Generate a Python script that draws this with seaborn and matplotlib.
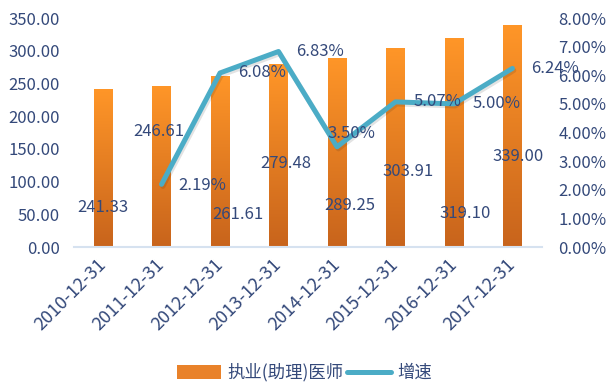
import matplotlib
matplotlib.use("Agg")
import matplotlib.pyplot as plt
import matplotlib.patheffects as pe
from matplotlib.patches import Patch
from matplotlib.lines import Line2D
from matplotlib.colors import LinearSegmentedColormap
import seaborn as sns
import pandas as pd
import numpy as np

# 数据
dates = ["2010-12-31", "2011-12-31", "2012-12-31", "2013-12-31",
         "2014-12-31", "2015-12-31", "2016-12-31", "2017-12-31"]
doctors = [241.33, 246.61, 261.61, 279.48, 289.25, 303.91, 319.10, 339.00]
growth = [np.nan, 2.19, 6.08, 6.83, 3.50, 5.07, 5.00, 6.24]  # 百分比

# 数据标签位置 (Excel 里被拖乱了)
bar_lab_x = [0.0, 0.95, 2.3, 3.12, 4.22, 5.21, 6.2, 7.09]
bar_lab_y = [60, 176, 49, 127, 64, 116, 52, 138]
pct_lab_x = [np.nan, 1.7, 2.72, 3.71, 4.25, 5.72, 6.72, 7.73]
pct_lab_y = [np.nan, 2.16, 6.08, 6.83, 3.95, 5.07, 5.00, 6.24]

TXT = "#34497a"
LINE = "#4BACC6"

sns.set_theme(style="white")
plt.rcParams["font.family"] = ["Noto Sans CJK SC", "DejaVu Sans"]

df = pd.DataFrame({"date": dates, "doctors": doctors, "growth": growth})

fig = plt.figure(figsize=(6.1, 3.83), dpi=100)
ax = fig.add_axes([0.121, 0.355, 0.767, 0.598])

sns.barplot(data=df, x="date", y="doctors", color="#E9822A", width=0.32,
            saturation=1, ax=ax)

# 渐变填充
cmap = LinearSegmentedColormap.from_list("org", ["#C8641C", "#FF9628"])
grad = np.linspace(0, 1, 256).reshape(-1, 1)
for p in ax.patches:
    x0, y0 = p.get_x(), p.get_y()
    w, h = p.get_width(), p.get_height()
    im = ax.imshow(grad, extent=(x0, x0 + w, y0, y0 + h), origin="lower",
                   cmap=cmap, aspect="auto", zorder=p.get_zorder() + 0.1)
    im.set_clip_path(p)

ax.set_xlim(-0.5, 7.5)
ax.set_ylim(0, 350)
ax.set_yticks(np.arange(0, 351, 50))
ax.set_yticklabels([f"{v:.2f}" for v in np.arange(0, 351, 50)])
ax.set_xlabel("")
ax.set_ylabel("")
ax.set_xticks(range(len(dates)))
ax.set_xticklabels(dates, rotation=45, ha="right", va="center",
                   rotation_mode="anchor")
ax.tick_params(axis="y", length=0, pad=10, labelsize=12, labelcolor=TXT)
ax.tick_params(axis="x", length=0, pad=11, labelsize=13, labelcolor=TXT)
for s in ["top", "right", "left"]:
    ax.spines[s].set_visible(False)
ax.spines["bottom"].set_color("#D6E2F0")
ax.spines["bottom"].set_linewidth(1.5)

# 右轴: 增速
ax2 = ax.twinx()
sns.lineplot(x=np.arange(1, len(dates)), y=growth[1:], color=LINE,
             linewidth=3.6, ax=ax2,
             path_effects=[pe.SimpleLineShadow(offset=(1, -1.5), alpha=0.12),
                           pe.Normal()])
ax2.set_ylim(0, 8)
ax2.set_yticks(np.arange(0, 9))
ax2.set_yticklabels([f"{v:.2f}%" for v in np.arange(0, 9)])
ax2.tick_params(axis="y", length=0, pad=12, labelsize=12, labelcolor=TXT)
for s in ax2.spines.values():
    s.set_visible(False)
ax2.set_xlim(-0.5, 7.5)

# 数据标签
for i in range(len(dates)):
    ax2.text(bar_lab_x[i], bar_lab_y[i], f"{doctors[i]:.2f}",
             transform=ax.transData, ha="center", va="center",
             fontsize=12, color=TXT)
    if not np.isnan(growth[i]):
        ax2.text(pct_lab_x[i], pct_lab_y[i], f"{growth[i]:.2f}%",
                 ha="center", va="center", fontsize=12, color=TXT)

handles = [Patch(facecolor="#E9822A", edgecolor="none"),
           Line2D([0], [0], color=LINE, linewidth=3.6)]
fig.legend(handles, ["执业(助理)医师", "增速"], loc="center",
           bbox_to_anchor=(0.5, 0.027), ncol=2, frameon=False,
           fontsize=12.5, labelcolor=TXT, handlelength=2.5, handleheight=0.8,
           handletextpad=0.4, columnspacing=0.2)

fig.savefig("out.png", dpi=100)
